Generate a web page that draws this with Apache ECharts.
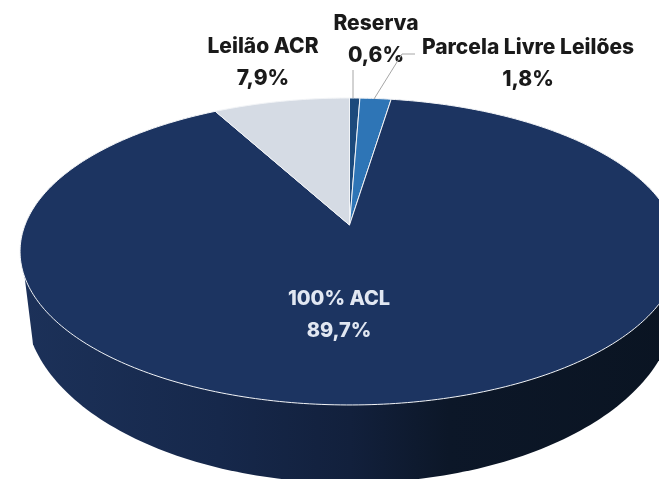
<!DOCTYPE html>
<html>
<head>
<meta charset="utf-8">
<style>
  html, body { margin: 0; padding: 0; background: #fff; overflow: hidden; }
  #main { width: 659px; height: 479px; filter: blur(0.4px); }
</style>
<script src="https://cdn.jsdelivr.net/npm/echarts@6/dist/echarts.min.js"></script>
</head>
<body>
<div id="main"></div>
<script>
const categories = ['Reserva', 'Parcela Livre Leilões', '100% ACL', 'Leilão ACR'];
const shares = [0.6, 1.8, 89.7, 7.9];
const sliceColors = ['#1c4a7c', '#2e75b6', '#1c3461', '#d5dbe4'];
const labelColors = ['#1a1a1a', '#1a1a1a', '#e1e7f2', '#1a1a1a'];
const labelCenters = [[376, 24], [528, 48], [339, 299], [263, 47]];
const labelSizes = [21, 21, 20, 21];
const leaderLines = [
  [[353, 70], [353, 98]],
  [[415, 54], [402, 54], [374, 99]],
  null,
  null
];

const fontFamily = 'Inter, "Open Sans", sans-serif';
const lineGap = 32;

// the pie lies on its back, so the top is a circle under a perspective map
const apex = [349.5, 225];
const topA = 324.5;
const topB = 148.9;
const tilt = -0.1726;

// lower rim of the side wall
const rim = { cx: 350, cy: 305, a: 325, b: 178 };

const total = shares.reduce((a, b) => a + b, 0);
const starts = [];
shares.reduce((sum, v, i) => { starts[i] = sum; return sum + v; }, 0);

function topPoint(share) {
  const t = share / total * Math.PI * 2;
  const u = Math.sin(t);
  const v = -Math.cos(t);
  const d = 1 + tilt * v;
  return [apex[0] + topA * u / d, apex[1] + topB * v / d];
}

function slicePoints(from, size) {
  const pts = [apex.slice()];
  const steps = Math.max(4, Math.ceil(size * 4));
  for (let i = 0; i <= steps; i++) {
    pts.push(topPoint(from + size * i / steps));
  }
  return pts;
}

function wallPoints() {
  const pts = [[22, 256]];
  const edge = Math.acos(317 / rim.a);
  for (let i = 0; i <= 120; i++) {
    const t = Math.PI - edge - (Math.PI - 2 * edge) * i / 120;
    pts.push([rim.cx + rim.a * Math.cos(t), rim.cy + rim.b * Math.sin(t)]);
  }
  pts.push([679, 256]);
  return pts;
}

function renderWall() {
  return {
    type: 'polygon',
    shape: { points: wallPoints() },
    style: {
      fill: new echarts.graphic.LinearGradient(0, 0, 1, 0, [
        { offset: 0, color: '#1c3159' },
        { offset: 0.3, color: '#16284b' },
        { offset: 0.5, color: '#12203c' },
        { offset: 0.65, color: '#0c1728' },
        { offset: 1, color: '#0a1422' }
      ])
    }
  };
}

function renderSlice(params, api) {
  const i = params.dataIndex;
  const value = api.value(0);
  const children = [{
    type: 'polygon',
    shape: { points: slicePoints(starts[i], value) },
    style: { fill: sliceColors[i], stroke: '#f2f4f7', lineWidth: 1, lineJoin: 'round' }
  }];
  if (leaderLines[i]) {
    children.push({
      type: 'polyline',
      shape: { points: leaderLines[i] },
      style: { fill: null, stroke: '#a6a6a6', lineWidth: 1 }
    });
  }
  const pct = String(value).replace('.', ',') + '%';
  [categories[i], pct].forEach((line, k) => {
    children.push({
      type: 'text',
      style: {
        x: labelCenters[i][0],
        y: labelCenters[i][1] + k * lineGap,
        text: line,
        fill: labelColors[i],
        font: '800 ' + labelSizes[i] + 'px ' + fontFamily,
        align: 'center',
        verticalAlign: 'middle'
      }
    });
  });
  return { type: 'group', children: children };
}

const chart = echarts.init(document.getElementById('main'), null, { renderer: 'canvas' });
chart.setOption({
  animation: false,
  backgroundColor: '#fff',
  series: [
    { type: 'custom', coordinateSystem: 'none', silent: true, z: 1, data: [total], renderItem: renderWall },
    { type: 'custom', coordinateSystem: 'none', silent: true, z: 2, data: shares, renderItem: renderSlice }
  ]
});
</script>
</body>
</html>
